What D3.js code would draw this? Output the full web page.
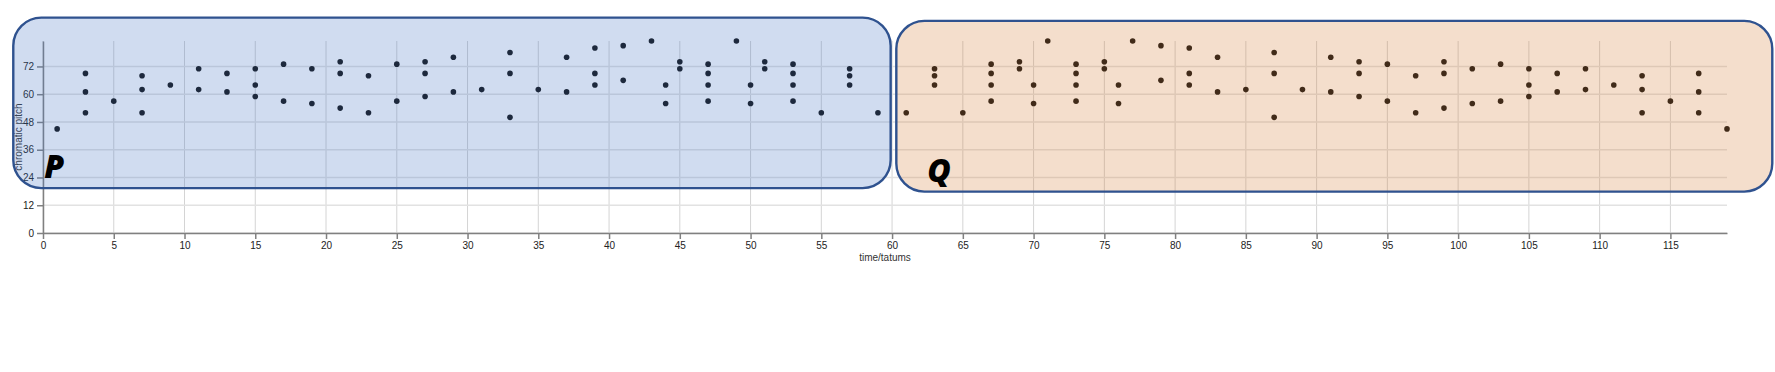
<!DOCTYPE html>
<html>
<head>
<meta charset="utf-8">
<script src="https://cdn.jsdelivr.net/npm/d3@7"></script>
<style>
body { margin: 0; background: #fff; }
svg { display: block; font-family: "Liberation Sans", Arial, sans-serif; }
.grid line { stroke: #d4d4d4; stroke-width: 1; }
.grid.h line { stroke: #e2e2e2; stroke-width: 1.6; }
.axis path, .axis line { stroke: #808080; stroke-width: 1.5; }
.axis text { fill: #222; font-size: 10px; }
.lab { fill: #333; font-size: 10px; }
.tag { font-family: "Open Sans", "Noto Sans", sans-serif; font-weight: 800; font-style: italic; font-size: 32px; fill: #000; }
</style>
</head>
<body>
<svg width="1775" height="372"></svg>
<script>
// notes of P (time in tatums, chromatic pitch)
var pTime  = [1, 3,3,3, 5, 7,7,7, 9, 11,11, 13,13, 15,15,15, 17,17, 19,19, 21,21,21, 23,23, 25,25, 27,27,27,
              29,29, 31, 33,33,33, 35, 37,37, 39,39,39, 41,41, 43, 44,44, 45,45, 47,47,47,47, 49, 50,50, 51,51,
              53,53,53,53, 55, 57,57,57, 59];
var pPitch = [45, 69,61,52, 57, 68,62,52, 64, 71,62, 69,61, 71,64,59, 73,57, 71,56, 74,69,54, 68,52, 73,57, 74,69,59,
              76,61, 62, 78,69,50, 62, 76,61, 80,69,64, 81,66, 83, 64,56, 74,71, 73,69,64,57, 83, 64,56, 74,71,
              73,69,64,57, 52, 71,68,64, 52];

// notes of Q
var qTime  = [61, 63,63,63, 65, 67,67,67,67, 69,69, 70,70, 71, 73,73,73,73, 75,75, 76,76, 77, 79,79, 81,81,81,
              83,83, 85, 87,87,87, 89, 91,91, 93,93,93, 95,95, 97,97, 99,99,99, 101,101, 103,103, 105,105,105,
              107,107, 109,109, 111, 113,113,113, 115, 117,117,117, 119];
var qPitch = [52, 71,68,64, 52, 73,69,64,57, 74,71, 64,56, 83, 73,69,64,57, 74,71, 64,56, 83, 81,66, 80,69,64,
              76,61, 62, 78,69,50, 62, 76,61, 74,69,59, 73,57, 68,52, 74,69,54, 71,56, 73,57, 71,64,59,
              69,61, 71,62, 64, 68,62,52, 57, 69,61,52, 45];

var xTicks = d3.range(0, 120, 5);
var yTicks = d3.range(0, 84, 12);

// highlighted sections, in data units
var regionName  = ["P", "Q"];
var regionStart = [-2.1, 60.3];
var regionEnd   = [59.9, 122.2];
var regionTop   = [93.1, 91.7];
var regionBot   = [19.4, 17.9];
var regionFill  = ["rgb(68,114,196)", "rgb(212,125,52)"];

var svg = d3.select("svg"),
    margin = {top: 41, right: 48, bottom: 139, left: 43},
    width = svg.attr("width") - margin.left - margin.right,
    height = svg.attr("height") - margin.top - margin.bottom;

var notes = pTime.map((t, i) => ({t: t, p: pPitch[i]}))
  .concat(qTime.map((t, i) => ({t: t, p: qPitch[i]})));

var x = d3.scaleLinear()
    .domain([0, d3.max(notes, d => d.t)])
    .range([0, width]);
var y = d3.scaleLinear()
    .domain([0, d3.max(notes, d => d.p)])
    .range([height, 0]);

var g = svg.append("g")
    .attr("transform", "translate(" + margin.left + "," + margin.top + ")");

// grid
g.append("g").attr("class", "grid v")
  .selectAll("line").data(xTicks).enter().append("line")
    .attr("x1", d => x(d)).attr("x2", d => x(d))
    .attr("y1", 0).attr("y2", height);
g.append("g").attr("class", "grid h")
  .selectAll("line").data(yTicks).enter().append("line")
    .attr("x1", 0).attr("x2", width)
    .attr("y1", d => y(d)).attr("y2", d => y(d));

// axes
g.append("g")
    .attr("class", "axis axis--x")
    .attr("transform", "translate(0," + height + ")")
    .call(d3.axisBottom(x).tickValues(xTicks).tickSizeOuter(0));
g.append("g")
    .attr("class", "axis axis--y")
    .call(d3.axisLeft(y).tickValues(yTicks).tickSizeOuter(0));

g.append("text").attr("class", "lab")
    .attr("x", width / 2).attr("y", height + 28)
    .attr("text-anchor", "middle")
    .text("time/tatums");
g.append("text").attr("class", "lab")
    .attr("transform", "translate(-21," + height / 2 + ") rotate(-90)")
    .attr("text-anchor", "middle")
    .text("chromatic pitch");

// notes
g.append("g").selectAll("circle").data(notes).enter().append("circle")
    .attr("r", 2.8)
    .attr("cx", d => x(d.t))
    .attr("cy", d => y(d.p))
    .attr("fill", "#111");

// section boxes drawn over everything, semi transparent
var box = g.append("g").selectAll("g").data(regionName).enter().append("g");
box.append("rect")
    .attr("x", (d, i) => x(regionStart[i]))
    .attr("y", (d, i) => y(regionTop[i]))
    .attr("width", (d, i) => x(regionEnd[i]) - x(regionStart[i]))
    .attr("height", (d, i) => y(regionBot[i]) - y(regionTop[i]))
    .attr("rx", 28).attr("ry", 28)
    .attr("fill", (d, i) => regionFill[i])
    .attr("fill-opacity", 0.25)
    .attr("stroke", "#2f528f")
    .attr("stroke-width", 2.4);
box.append("text").attr("class", "tag")
    .attr("x", (d, i) => x(regionStart[i]) + 31)
    .attr("y", (d, i) => y(regionBot[i]) - 10)
    .text(d => d);
</script>
</body>
</html>
